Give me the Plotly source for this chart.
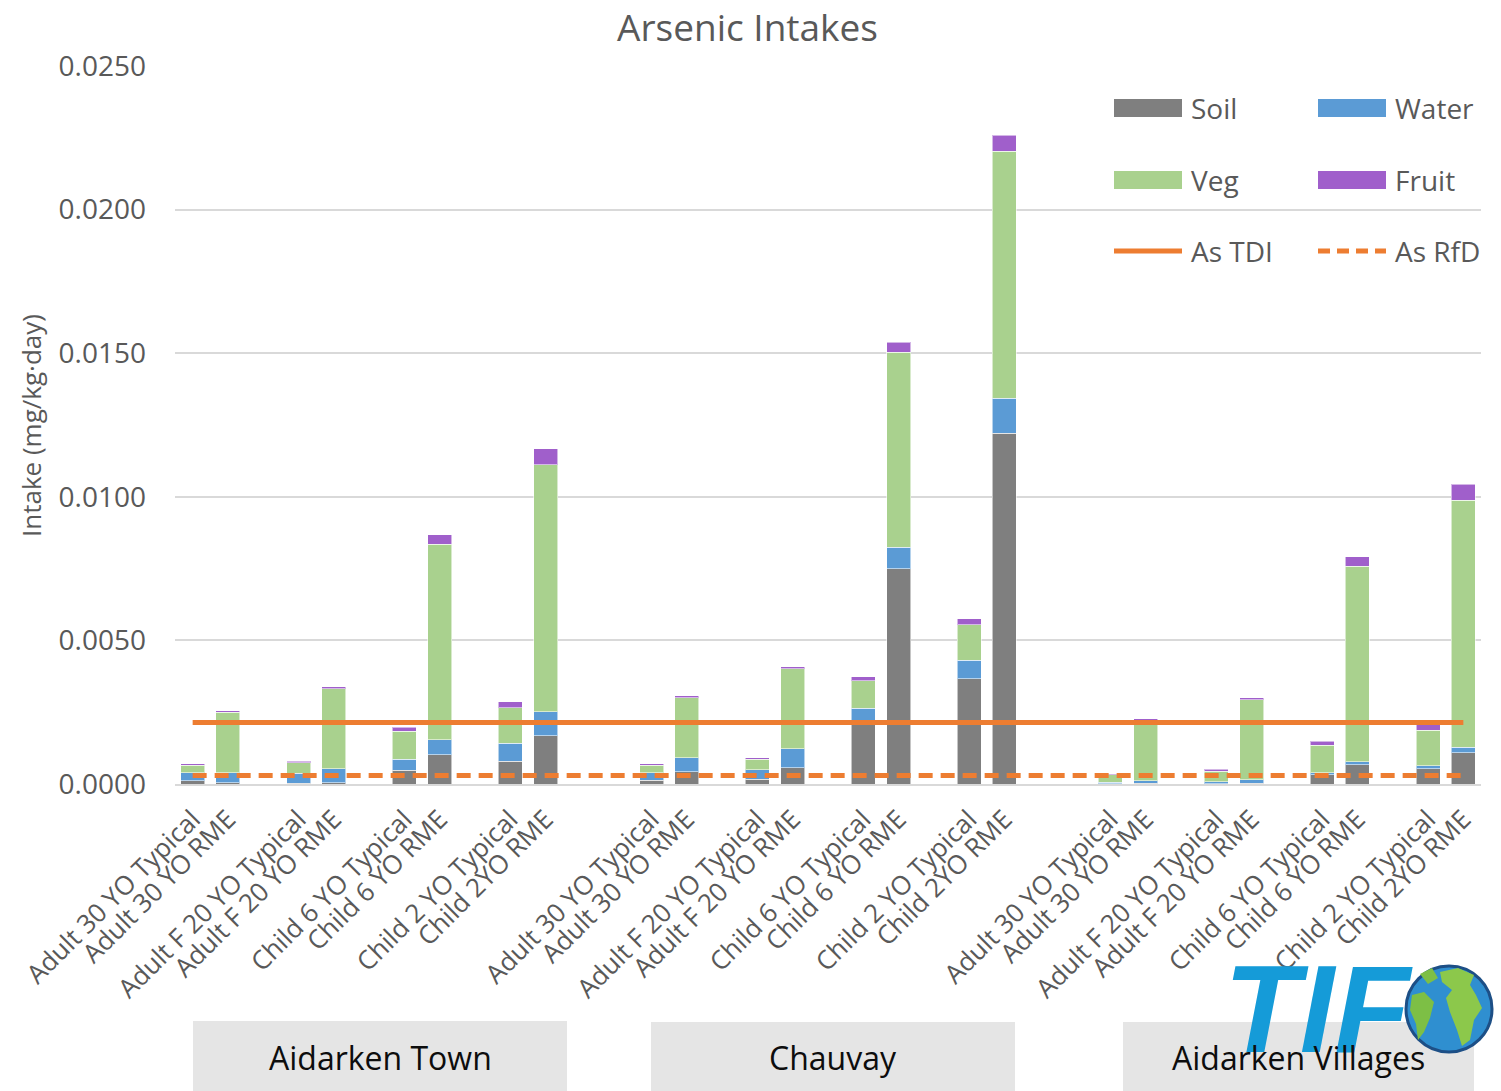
import plotly.graph_objects as go

# ---- data -------------------------------------------------------------
locations = ["Aidarken Town", "Chauvay", "Aidarken Villages"]
receptors = [
    "Adult 30 YO Typical", "Adult 30 YO RME",
    "Adult F 20 YO Typical", "Adult F 20 YO RME",
    "Child 6 YO Typical", "Child 6 YO RME",
    "Child 2 YO Typical", "Child 2YO RME",
]

# intakes in mg/kg-day, 8 receptors per location (Aidarken Town, Chauvay, Aidarken Villages)
soil = [
    0.00012, 0.00005, 0.00003, 0.00005, 0.00048, 0.00102, 0.00079, 0.00168,
    0.00013, 0.00043, 0.00016, 0.00057, 0.00222, 0.00750, 0.00366, 0.01222,
    0.00001, 0.00002, 0.00001, 0.00002, 0.00033, 0.00067, 0.00053, 0.00109,
]
water = [
    0.00028, 0.00035, 0.00034, 0.00048, 0.00039, 0.00052, 0.00063, 0.00083,
    0.00027, 0.00049, 0.00034, 0.00066, 0.00041, 0.00074, 0.00065, 0.00121,
    0.00005, 0.00010, 0.00007, 0.00013, 0.00006, 0.00011, 0.00011, 0.00019,
]
veg = [
    0.00026, 0.00209, 0.00037, 0.00278, 0.00096, 0.00680, 0.00123, 0.00860,
    0.00026, 0.00209, 0.00037, 0.00278, 0.00096, 0.00680, 0.00123, 0.00860,
    0.00026, 0.00209, 0.00037, 0.00278, 0.00096, 0.00680, 0.00123, 0.00860,
]
fruit = [
    0.00004, 0.00006, 0.00006, 0.00008, 0.00014, 0.00034, 0.00022, 0.00056,
    0.00004, 0.00006, 0.00005, 0.00008, 0.00014, 0.00034, 0.00022, 0.00056,
    0.00004, 0.00006, 0.00006, 0.00008, 0.00014, 0.00034, 0.00022, 0.00056,
]
as_tdi = 0.00214
as_rfd = 0.0003

# ---- styling ------------------------------------------------------------
W, H = 1501, 1091
L, R, T, B = 175, 20, 66, 307
FONT = "Open Sans"
TXT = "#595959"
colors = {"Soil": "#7f7f7f", "Water": "#5b9bd5", "Veg": "#a9d18e", "Fruit": "#a05fcb"}
ORANGE = "#ed7d31"

PW, PH = W - L - R, H - T - B


def px(xp):
    return (xp - L) / PW


def py(yp):
    return (H - B - yp) / PH


# slot positions: pairs of bars separated by one empty slot, two between locations
positions = []
for g in range(len(locations)):
    for r in range(len(receptors)):
        positions.append(g * 13 + (r // 2) * 3 + r % 2)
tick_text = receptors * len(locations)

fig = go.Figure()
for name, vals in [("Soil", soil), ("Water", water), ("Veg", veg), ("Fruit", fruit)]:
    fig.add_trace(go.Bar(
        x=positions, y=vals, name=name,
        marker=dict(color=colors[name], line=dict(color="rgba(255,255,255,0.55)", width=1)),
        showlegend=False,
    ))

xs = [positions[0], positions[-1]]
fig.add_trace(go.Scatter(x=xs, y=[as_tdi, as_tdi], mode="lines", name="As TDI",
                         line=dict(color=ORANGE, width=5), showlegend=False))
fig.add_trace(go.Scatter(x=xs, y=[as_rfd, as_rfd], mode="lines", name="As RfD",
                         line=dict(color=ORANGE, width=5, dash="14px,8px"), showlegend=False))

shapes = []
annotations = []

# legend (two columns, three rows)
legend_rows = [
    (108, [("Soil", "bar"), ("Water", "bar")]),
    (180, [("Veg", "bar"), ("Fruit", "bar")]),
    (251, [("As TDI", "solid"), ("As RfD", "dash")]),
]
col_x = [1114, 1318]
for yc, items in legend_rows:
    for (label, kind), x0 in zip(items, col_x):
        if kind == "bar":
            shapes.append(dict(type="rect", xref="paper", yref="paper",
                               x0=px(x0), x1=px(x0 + 68), y0=py(yc + 9), y1=py(yc - 9),
                               fillcolor=colors[label], line=dict(width=0)))
        else:
            shapes.append(dict(type="line", xref="paper", yref="paper",
                               x0=px(x0), x1=px(x0 + 68), y0=py(yc), y1=py(yc),
                               line=dict(color=ORANGE, width=5,
                                         dash="solid" if kind == "solid" else "12px,7px")))
        annotations.append(dict(text=label, xref="paper", yref="paper",
                                x=px(x0 + 75), y=py(yc), xanchor="left", yanchor="middle",
                                showarrow=False, font=dict(family=FONT, size=28, color=TXT)))

# TIF logo
annotations.append(dict(text="<b><i>TIF</i></b>", xref="paper", yref="paper",
                        x=px(1318), y=py(1009), xanchor="center", yanchor="middle",
                        showarrow=False,
                        font=dict(family="Liberation Sans", size=124, color="#159bd8")))

# location boxes under the axis labels
boxes = [(193, 567, 1021), (651, 1015, 1022), (1123, 1474, 1022)]
for (x0, x1, y0), loc in zip(boxes, locations):
    shapes.append(dict(type="rect", xref="paper", yref="paper", layer="below",
                       x0=px(x0), x1=px(x1), y0=py(H), y1=py(y0),
                       fillcolor="#e5e5e5", line=dict(width=0)))

# globe
gcx, gcy, gr = 1449, 1009, 43
shapes.append(dict(type="circle", xref="paper", yref="paper",
                   x0=px(gcx - gr), x1=px(gcx + gr), y0=py(gcy + gr), y1=py(gcy - gr),
                   fillcolor="#2f8fd0", line=dict(color="#1d4f86", width=3)))


def blob(points, color):
    d = "M " + " L ".join(f"{px(a):.5f},{py(b):.5f}" for a, b in points) + " Z"
    return dict(type="path", xref="paper", yref="paper", path=d,
                fillcolor=color, line=dict(width=0))


shapes.append(blob([(1440, 972), (1458, 968), (1474, 975), (1470, 985), (1476, 995),
                    (1482, 1008), (1474, 1020), (1470, 1040), (1462, 1046), (1457, 1030),
                    (1450, 1012), (1446, 998), (1452, 990), (1442, 982)], "#8cc84b"))
shapes.append(blob([(1412, 995), (1424, 992), (1434, 1002), (1430, 1018), (1424, 1032),
                    (1418, 1040), (1416, 1024), (1410, 1010)], "#7dbf45"))
shapes.append(blob([(1420, 974), (1432, 968), (1438, 978), (1428, 984)], "#7dbf45"))

for (x0, x1, y0), loc in zip(boxes, locations):
    annotations.append(dict(text=loc, xref="paper", yref="paper",
                            x=px((x0 + x1) / 2), y=py(1057), xanchor="center", yanchor="middle",
                            showarrow=False, font=dict(family=FONT, size=32, color="#0d0d0d")))

# y-axis title
annotations.append(dict(text="Intake (mg/kg·day)", xref="paper", yref="paper",
                        x=px(31), y=py(426), xanchor="center", yanchor="middle",
                        textangle=-90, showarrow=False,
                        font=dict(family=FONT, size=26, color=TXT)))

fig.update_layout(
    width=W, height=H,
    margin=dict(l=L, r=R, t=T, b=B, pad=0),
    paper_bgcolor="white", plot_bgcolor="white",
    barmode="stack", bargap=0.32,
    title=dict(text="Arsenic Intakes", x=0.498, xref="container", xanchor="center",
               y=1 - 28 / H, yref="container", yanchor="middle",
               font=dict(family=FONT, size=37, color=TXT)),
    font=dict(family=FONT, color=TXT),
    shapes=shapes,
    annotations=annotations,
    showlegend=False,
)
fig.update_xaxes(
    range=[-0.5, positions[-1] + 0.5],
    tickmode="array", tickvals=positions, ticktext=tick_text,
    tickangle=-45, tickfont=dict(family=FONT, size=26, color=TXT),
    showgrid=False, zeroline=False, showline=True, linecolor="#d9d9d9", linewidth=1.5,
    ticks="", ticklabelstandoff=8,
)
fig.update_yaxes(
    range=[0, 0.025], dtick=0.005, tickformat=".4f",
    tickfont=dict(family=FONT, size=28, color=TXT),
    showgrid=True, gridcolor="#d9d9d9", gridwidth=1.5,
    zeroline=False, showline=False, ticks="", ticklabelstandoff=28,
)

fig.write_html("out.html")
